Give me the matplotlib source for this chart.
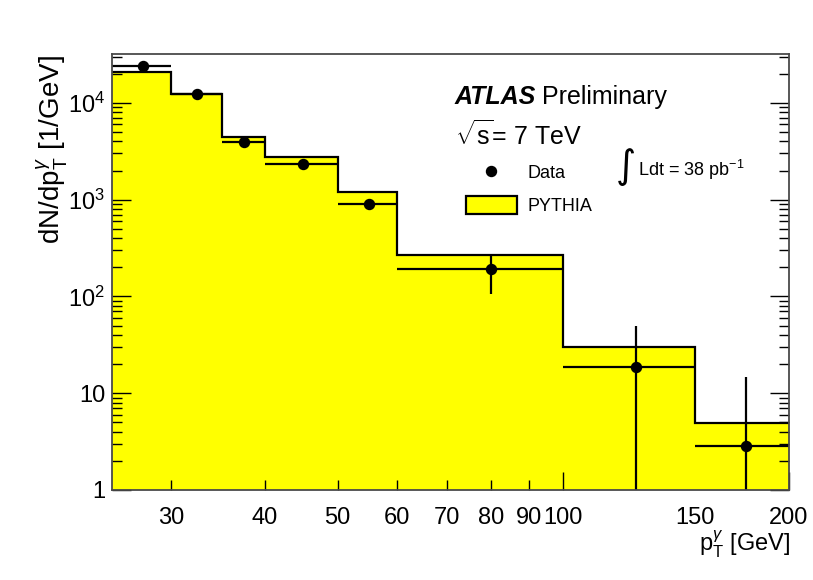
import numpy as np
import matplotlib
matplotlib.use("Agg")
import matplotlib.pyplot as plt
from matplotlib.lines import Line2D
from matplotlib.patches import Patch
from matplotlib.ticker import FixedLocator, FixedFormatter, NullFormatter

# ---------------- data ----------------
bin_edges = [25, 30, 35, 40, 50, 60, 100, 150, 200]
pythia_values = [20700, 12400, 4470, 2770, 1190, 267, 29.8, 4.9]

data_x = [27.5, 32.5, 37.5, 45, 55, 80, 125, 175]
data_y = [23900, 12250, 3990, 2360, 896, 193, 18.6, 2.87]
data_err_low = [900, 500, 150, 90, 35, 88, 18.2, 2.6]
data_err_high = [900, 500, 150, 90, 35, 82, 30.4, 11.7]

x_tick_values = [30, 40, 50, 60, 70, 80, 90, 100, 150, 200]
x_tick_labels = ["30", "40", "50", "60", "70", "80", "90", "100", "150", "200"]
y_tick_values = [1, 10, 100, 1000, 10000]
y_tick_labels = ["1", "10", r"$10^{2}$", r"$10^{3}$", r"$10^{4}$"]

# ---------------- style ----------------
plt.rcParams["font.family"] = ["Liberation Sans", "DejaVu Sans"]
plt.rcParams["mathtext.fontset"] = "custom"
plt.rcParams["mathtext.rm"] = "Liberation Sans"
plt.rcParams["mathtext.it"] = "Liberation Sans:italic"
plt.rcParams["mathtext.bf"] = "Liberation Sans:bold"

W, H = 813, 580
fig = plt.figure(figsize=(W / 100, H / 100), dpi=100)
ax_l, ax_r, ax_t, ax_b = 112, 789, 54, 490
ax = fig.add_axes([ax_l / W, 1 - ax_b / H, (ax_r - ax_l) / W, (ax_b - ax_t) / H])

ax.set_xscale("log")
ax.set_yscale("log")
ax.set_xlim(25, 200)
ax.set_ylim(1, 3.2e4)

# histogram
ax.stairs(pythia_values, bin_edges, baseline=0.1, fill=True, facecolor="#ffff00",
          edgecolor="none", zorder=1)
ax.stairs(pythia_values, bin_edges, baseline=None, color="black", lw=1.6, zorder=2)

# data
edges = np.array(bin_edges, dtype=float)
xc = np.array(data_x, dtype=float)
xerr = [xc - edges[:-1], edges[1:] - xc]
ax.errorbar(data_x, data_y, yerr=[data_err_low, data_err_high], xerr=xerr,
            fmt="o", color="black", ms=7.2, elinewidth=1.6, capsize=0, zorder=4)

# spines
for s in ax.spines.values():
    s.set_color("#4a4a4a")
    s.set_linewidth(1.3)
    s.set_zorder(5)

# x ticks
ax.xaxis.set_major_locator(FixedLocator(x_tick_values))
ax.xaxis.set_major_formatter(FixedFormatter(x_tick_labels))
ax.xaxis.set_minor_locator(FixedLocator([]))
ax.tick_params(axis="x", which="major", direction="in", length=7, width=1,
               labelsize=17, pad=12, top=False, bottom=True)
fig.canvas.draw()
for val, tk in zip(x_tick_values, ax.xaxis.get_major_ticks()):
    if val == 150:
        tk.tick1line.set_visible(False)
    elif val in (100, 200):
        tk.tick1line.set_markersize(13)

# y ticks
ax.yaxis.set_major_locator(FixedLocator(y_tick_values))
ax.yaxis.set_major_formatter(FixedFormatter(y_tick_labels))
minor_y = [m * 10 ** e for e in range(0, 5) for m in range(2, 10)]
ax.yaxis.set_minor_locator(FixedLocator(minor_y))
ax.yaxis.set_minor_formatter(NullFormatter())
ax.tick_params(axis="y", which="major", direction="in", length=13.5, width=1,
               labelsize=17, pad=5, left=True, right=True)
ax.tick_params(axis="y", which="minor", direction="in", length=7, width=1,
               left=True, right=True)

# axis titles
fig.text(52 / W, 1 - 55 / H, r"dN/dp$_{\mathrm{T}}^{\gamma}$ [1/GeV]", rotation=90,
         ha="center", va="top", fontsize=20)
fig.text(790 / W, 1 - 552 / H, r"p$_{\mathrm{T}}^{\gamma}$ [GeV]", ha="right",
         va="baseline", fontsize=17)

# labels
fig.text(455 / W, 1 - 104 / H, "ATLAS", fontsize=18, fontweight="bold",
         fontstyle="italic", ha="left", va="baseline")
fig.text(542 / W, 1 - 104 / H, "Preliminary", fontsize=18, ha="left", va="baseline")
fig.text(455 / W, 1 - 145 / H, r"$\sqrt{\mathrm{s}}$= 7 TeV", fontsize=18, ha="left",
         va="baseline")
fig.text(626 / W, 1 - 167 / H, "\u222b", fontsize=28, ha="center", va="center",
         family=["DejaVu Sans"])
fig.text(638 / W, 1 - 176 / H, r"Ldt = 38 pb$^{-1}$", fontsize=13, ha="left",
         va="baseline")

# legend
handles = [Line2D([], [], marker="o", color="black", ls="none", ms=7.2),
           Patch(facecolor="#ffff00", edgecolor="black", lw=1.6)]
leg = ax.legend(handles, ["Data", "PYTHIA"], loc="upper left",
                bbox_to_anchor=(466 / W, 1 - 163 / H), bbox_transform=fig.transFigure,
                frameon=False, fontsize=13, handlelength=2.8, handleheight=1.2,
                labelspacing=0.75, handletextpad=0.6, borderpad=0, borderaxespad=0)

fig.savefig("out.png", dpi=100)
